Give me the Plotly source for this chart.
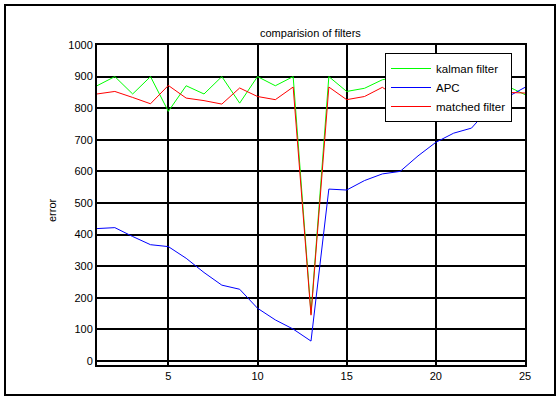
import plotly.graph_objects as go

# sample index
x_vals = list(range(1, 26))

# error per sample for each filter
kalman = [871, 900, 845, 900, 790, 871, 845, 900, 816, 900, 871, 900, 150,
          900, 853, 863, 890, 900, 871, 845, 900, 871, 900, 870, 843]
apc = [419, 422, 394, 368, 362, 325, 280, 240, 227, 167, 130, 101, 63,
       544, 541, 571, 592, 600, 649, 692, 721, 737, 800, 835, 866]
matched = [845, 853, 834, 814, 872, 832, 824, 813, 864, 837, 827, 867, 145,
           867, 827, 837, 866, 830, 840, 860, 835, 825, 865, 850, 848]

series_names = ["kalman filter", "APC", "matched filter"]
series_colors = ["#00ff00", "#0000ff", "#ff0000"]

y_ticks = list(range(0, 1001, 100))
x_ticks = [5, 10, 15, 20, 25]

W, H = 559, 397
L, R, T, B = 97, 34, 45, 32
pw, ph = W - L - R, H - T - B


def px_x(p):
    return (p - L) / pw


def px_y(p):
    return (H - B - p) / ph


fig = go.Figure()
for name, ys, col in zip(series_names, [kalman, apc, matched], series_colors):
    fig.add_trace(go.Scatter(x=x_vals, y=ys, mode="lines", name=name,
                             line=dict(color=col, width=1)))

font = dict(family="Liberation Sans, Arial, sans-serif", size=11, color="black")

fig.update_layout(
    width=W, height=H,
    margin=dict(l=L, r=R, t=T, b=B),
    paper_bgcolor="white", plot_bgcolor="white",
    font=font,
    showlegend=True,
    legend=dict(x=px_x(385), y=px_y(53), xanchor="left", yanchor="top",
                bgcolor="white", bordercolor="black", borderwidth=1,
                font=dict(family="Liberation Sans, Arial, sans-serif", size=11.5, color="black"),
                tracegroupgap=0, itemwidth=40),
    xaxis=dict(range=[1, 25], tickvals=x_ticks, showgrid=True, gridcolor="black",
               gridwidth=2, zeroline=False, showline=True, linecolor="black",
               linewidth=2, mirror=True, ticks="", tickfont=font),
    yaxis=dict(range=[-12.7, 1000], tickvals=y_ticks, showgrid=True, gridcolor="black",
               gridwidth=2, zeroline=False, showline=True, linecolor="black",
               linewidth=2, mirror=True, ticks="", tickfont=font),
    annotations=[
        dict(text="comparision of filters", x=px_x(310), y=px_y(33), xref="paper",
             yref="paper", showarrow=False, xanchor="center", yanchor="middle",
             font=font),
        dict(text="error", x=px_x(52), y=px_y(210), xref="paper", yref="paper",
             showarrow=False, textangle=-90, xanchor="center", yanchor="middle",
             font=font),
    ],
    shapes=[
        dict(type="rect", xref="paper", yref="paper",
             x0=px_x(5), x1=px_x(555), y0=px_y(395), y1=px_y(5),
             line=dict(color="black", width=2), layer="below"),
    ],
)

fig.write_html("out.html")
